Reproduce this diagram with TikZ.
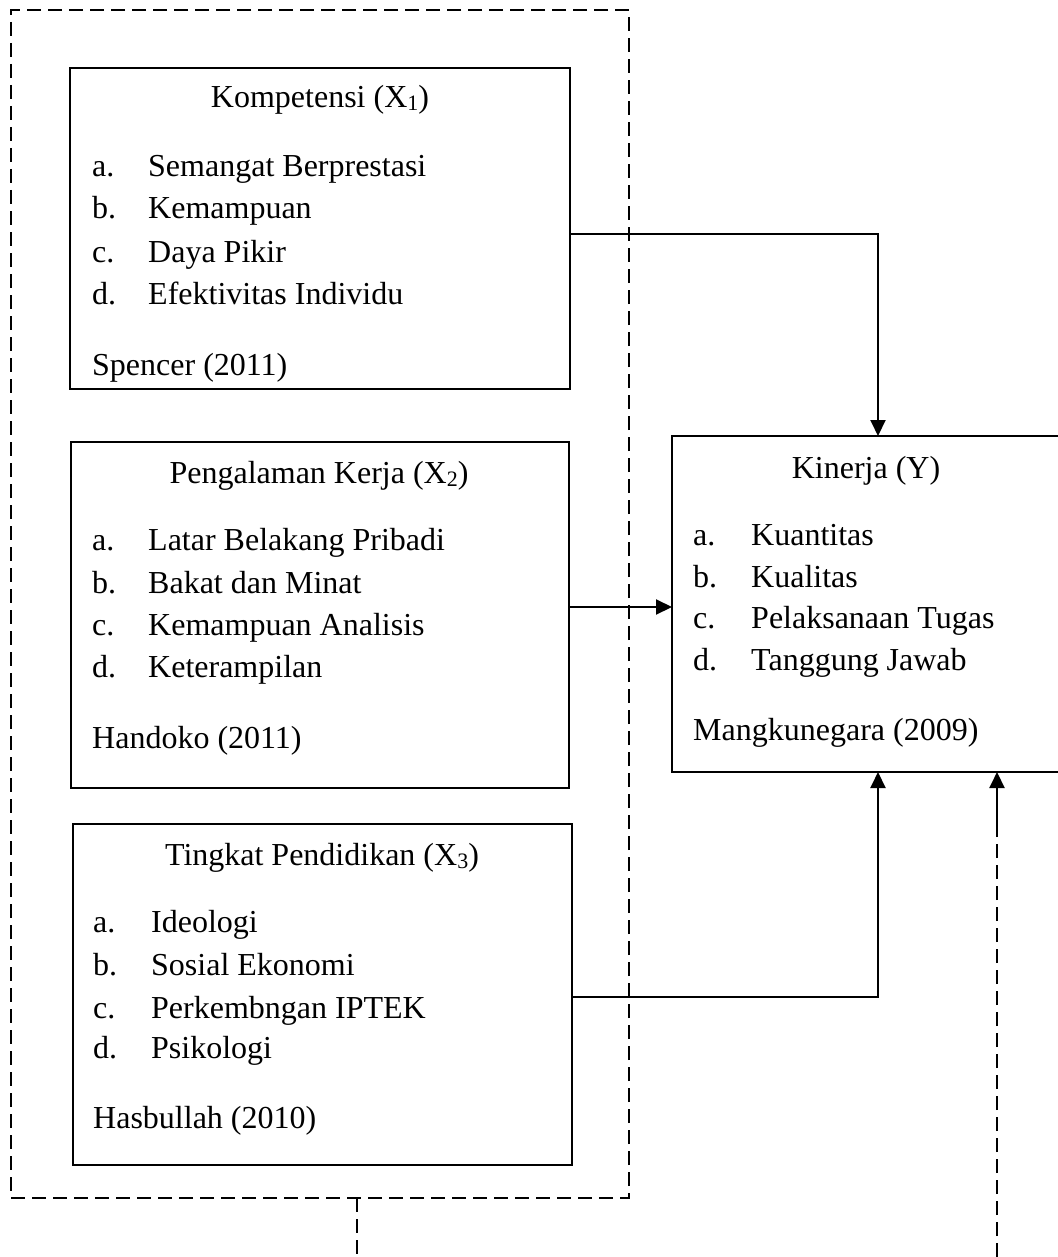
\documentclass[tikz,border=0pt]{standalone}
\usepackage{fontspec}
\setmainfont{Liberation Serif}
\usetikzlibrary{arrows.meta}
\newcommand{\subx}[1]{\raisebox{-3pt}{\fontsize{22}{22}\selectfont #1}}
\begin{document}
\begin{tikzpicture}[x=1pt,y=-1pt,
  frame/.style={draw, line width=2pt, inner sep=0pt, outer sep=0pt},
  txt/.style={inner sep=0pt, anchor=base west, font=\fontsize{32}{40}\selectfont},
  ttl/.style={txt, anchor=base},
  conn/.style={line width=2pt, -{Triangle[length=16pt,width=15pt]}},
  dashline/.style={line width=2pt, dash pattern=on 14pt off 7pt}]
\useasboundingbox (0,0) rectangle (1057,1257);

% outer dashed group
\node[frame, dashline, minimum width=618pt, minimum height=1188pt] (outer) at (320,604) {};

% boxes
\node[frame, minimum width=500pt, minimum height=321pt] (k1) at (320,228.5) {};
\node[frame, minimum width=498pt, minimum height=346pt] (k2) at (320,615) {};
\node[frame, minimum width=499pt, minimum height=341pt] (k3) at (322.5,994.5) {};
\node[frame, minimum width=388pt, minimum height=336pt] (ky) at (866,604) {};

% box 1 text
\node[ttl] (t1) at (320,108) {Kompetensi (X\subx{1})};
\foreach \l/\t/\y [count=\i] in {a./Semangat Berprestasi/177, b./Kemampuan/219, c./Daya Pikir/262, d./Efektivitas Individu/304}{
  \node[txt] (l1\i) at (92,\y) {\l};
  \node[txt] (i1\i) at (148,\y) {\t};
}
\node[txt] (c1) at (92,375) {Spencer (2011)};

% box 2 text
\node[ttl] (t2) at (319,483) {Pengalaman Kerja (X\subx{2})};
\foreach \l/\t/\y [count=\i] in {a./Latar Belakang Pribadi/550, b./Bakat dan Minat/593, c./Kemampuan Analisis/635, d./Keterampilan/677}{
  \node[txt] (l2\i) at (92,\y) {\l};
  \node[txt] (i2\i) at (148,\y) {\t};
}
\node[txt] (c2) at (92,748) {Handoko (2011)};

% box 3 text
\node[ttl] (t3) at (322,865) {Tingkat Pendidikan (X\subx{3})};
\foreach \l/\t/\y [count=\i] in {a./Ideologi/932, b./Sosial Ekonomi/975, c./Perkembngan IPTEK/1018, d./Psikologi/1058}{
  \node[txt] (l3\i) at (93,\y) {\l};
  \node[txt] (i3\i) at (151,\y) {\t};
}
\node[txt] (c3) at (93,1128) {Hasbullah (2010)};

% Kinerja text
\node[ttl] (ty) at (866,478) {Kinerja (Y)};
\foreach \l/\t/\y [count=\i] in {a./Kuantitas/545, b./Kualitas/587, c./Pelaksanaan Tugas/628, d./Tanggung Jawab/670}{
  \node[txt] (ly\i) at (693,\y) {\l};
  \node[txt] (iy\i) at (751,\y) {\t};
}
\node[txt] (cy) at (693,740) {Mangkunegara (2009)};

% connectors
\draw[conn] ([yshift=-5.5pt]k1.east) -| ([xshift=12pt]ky.north);
\coordinate (s2) at ([yshift=8pt]k2.east);
\draw[conn] (s2) -- (s2 -| ky.west);
\draw[conn] ([yshift=-2.5pt]k3.east) -| ([xshift=12pt]ky.south);

\coordinate (m2) at (997,1257);
\draw[dashline] (m2) -- ([yshift=-56pt]m2 |- ky.south);
\draw[conn] ([yshift=-58pt]m2 |- ky.south) -- (m2 |- ky.south);

\coordinate (m1) at (357,1257);
\draw[dashline] (m1 |- outer.south) -- (m1);
\end{tikzpicture}
\end{document}
